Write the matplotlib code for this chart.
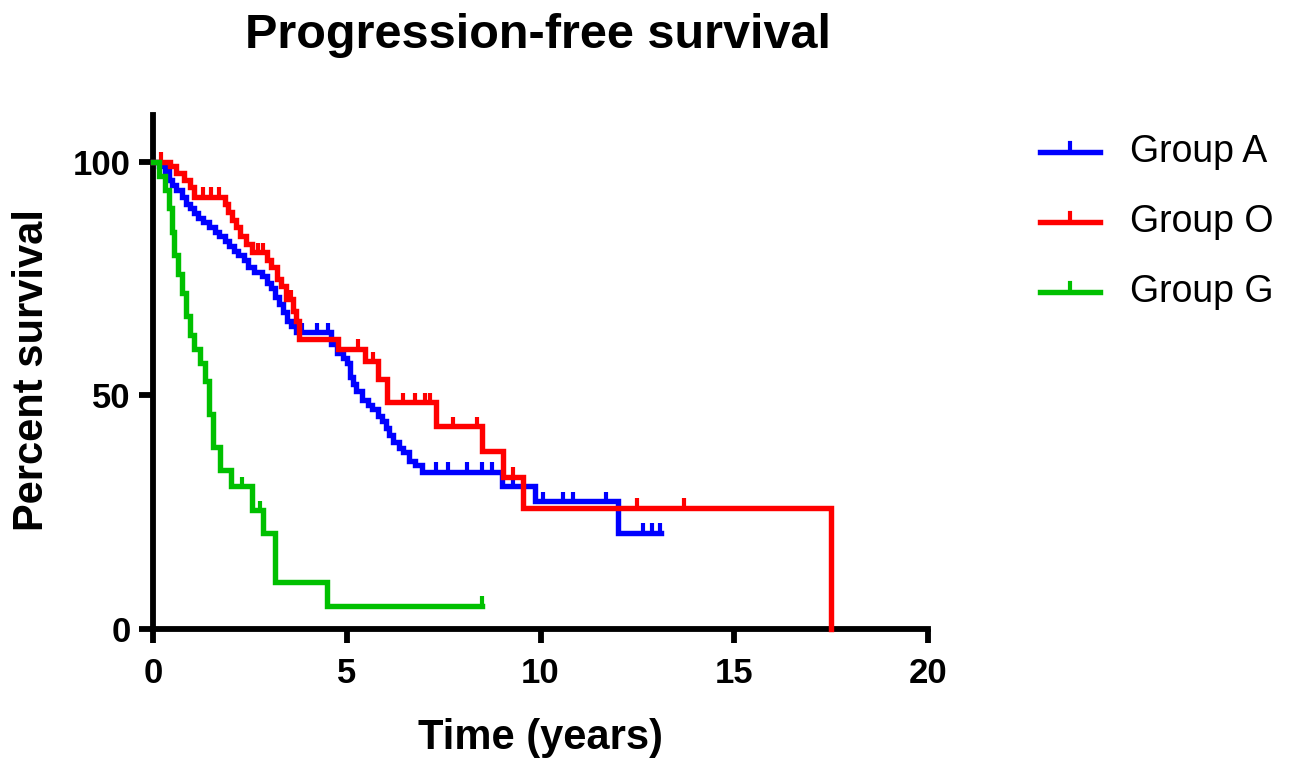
import numpy as np
import matplotlib.pyplot as plt
from matplotlib.lines import Line2D

plt.rcParams['font.family'] = ['Liberation Sans', 'DejaVu Sans']

# ---- data (drop time, survival after drop) ----
blue_t = [0.15, 0.3, 0.4, 0.5, 0.6, 0.75, 0.85, 0.95, 1.05, 1.15, 1.3, 1.45, 1.6, 1.7,
          1.85, 1.95, 2.1, 2.2, 2.35, 2.45, 2.6, 2.8, 2.95, 3.05, 3.15, 3.25, 3.35, 3.45,
          3.55, 3.7, 4.6, 4.75, 4.9, 5.0, 5.08, 5.15, 5.25, 5.4, 5.55, 5.65, 5.8, 5.9,
          6.0, 6.1, 6.2, 6.35, 6.45, 6.6, 6.75, 6.95, 9.0, 9.86, 12.0]
blue_s = [99, 98, 96, 95, 94, 92.5, 91, 90, 89, 88, 87, 86, 85, 84,
          83, 82, 81, 80, 79, 77.5, 76.5, 75.5, 74, 73, 71, 69.5, 67.8, 66,
          64.8, 63.5, 61, 59, 58, 57, 54, 52.5, 51, 49, 48, 47, 45.5, 44.5,
          43, 41.5, 40, 38.8, 37.8, 36, 35, 33.7, 30.5, 27.3, 20.6]
blue_end = 13.1
blue_cens = [3.85, 4.23, 4.52, 7.3, 7.6, 8.1, 8.5, 8.75, 9.3, 10.06, 10.58, 10.84,
             11.7, 12.65, 12.88, 13.08]

red_t = [0.45, 0.6, 0.8, 0.95, 1.05, 1.85, 1.93, 2.05, 2.15, 2.25, 2.4, 2.55, 2.95,
         3.05, 3.2, 3.3, 3.42, 3.62, 3.7, 3.77, 4.78, 5.47, 5.8, 6.05, 7.3, 8.5,
         9.04, 9.55, 17.5]
red_s = [99, 97.5, 96, 94.5, 92.5, 91, 89.3, 87.5, 86, 84, 82.5, 80.7, 79,
         77.5, 75, 73.4, 70.6, 68, 66, 62, 60, 57.3, 53.4, 48.5, 43.4, 38,
         32.6, 26, 0]
red_end = 17.5
red_cens = [0.2, 1.3, 1.5, 1.7, 2.7, 2.85, 3.55, 5.3, 5.68, 6.45, 6.76, 7.02, 7.15,
            7.74, 8.36, 9.3, 12.5, 13.7]

green_t = [0.15, 0.3, 0.4, 0.5, 0.55, 0.65, 0.75, 0.85, 0.95, 1.05, 1.2, 1.35, 1.45,
           1.55, 1.73, 2.0, 2.55, 2.85, 3.15, 4.5]
green_s = [97, 94, 90, 85, 80, 76, 72, 67, 63, 60, 57, 53, 46,
           39, 34, 30.5, 25.5, 20.6, 10, 5]
green_end = 8.5
green_cens = [2.3, 2.76, 8.5]

groups = ["Group A", "Group O", "Group G"]
colors = ["#0000ff", "#ff0000", "#00c000"]


def km_curve(t, s, end):
    x = [0] + list(t) + [end]
    y = [100] + list(s) + [s[-1]]
    return np.array(x), np.array(y)


def level_at(t, s, c):
    lev = 100
    for ti, si in zip(t, s):
        if ti <= c:
            lev = si
    return lev


W, H = 1311, 761
fig = plt.figure(figsize=(W / 100, H / 100), dpi=100)
ax = fig.add_axes([153 / W, 1 - 629 / H, (928 - 153) / W, (629 - 115) / H])

series = [(blue_t, blue_s, blue_end, blue_cens),
          (red_t, red_s, red_end, red_cens),
          (green_t, green_s, green_end, green_cens)]

lw = 3.9
for (t, s, end, cens), col in zip(series, colors):
    x, y = km_curve(t, s, end)
    ax.step(x, y, where='post', color=col, lw=lw, clip_on=False,
            solid_joinstyle='miter', zorder=3)
    lv = [level_at(t, s, c) for c in cens]
    ax.vlines(cens, lv, np.array(lv) + 2.0, color=col, lw=3.0, zorder=3)

ax.set_xlim(0, 20)
ax.set_ylim(0, 110)
ax.set_xticks([0, 5, 10, 15, 20])
ax.set_yticks([0, 50, 100])
for sp in ['top', 'right']:
    ax.spines[sp].set_visible(False)
for sp in ['left', 'bottom']:
    ax.spines[sp].set_linewidth(4.2)
ax.tick_params(width=4.2, length=10, labelsize=25)
ax.tick_params(axis='x', pad=10)
ax.tick_params(axis='y', pad=6)
for lab in ax.get_xticklabels() + ax.get_yticklabels():
    lab.set_fontweight('bold')

ax.set_xlabel("Time (years)", fontsize=30, fontweight='bold')
ax.xaxis.label.set_va('center')
ax.xaxis.set_label_coords(0.5, (629 - 738) / 514)
ax.set_ylabel("Percent survival", fontsize=30, fontweight='bold')
ax.yaxis.label.set_va('center')
ax.yaxis.set_label_coords((32 - 153) / 775, (629 - 370) / 514)

fig.text(538 / W, 1 - 35 / H, "Progression-free survival", fontsize=35,
         fontweight='bold', ha='center', va='center')

# legend drawn by hand
for i, (g, col) in enumerate(zip(groups, colors)):
    yy = 1 - (152 + 70 * i) / H
    fig.add_artist(Line2D([1040 / W, 1100 / W], [yy, yy], color=col, lw=lw,
                          transform=fig.transFigure))
    fig.add_artist(Line2D([1070 / W, 1070 / W], [yy, yy + 9 / H], color=col, lw=3.0,
                          transform=fig.transFigure))
    fig.text(1130 / W, yy, g, fontsize=27, ha='left', va='center')

fig.savefig('out.png', dpi=100)
